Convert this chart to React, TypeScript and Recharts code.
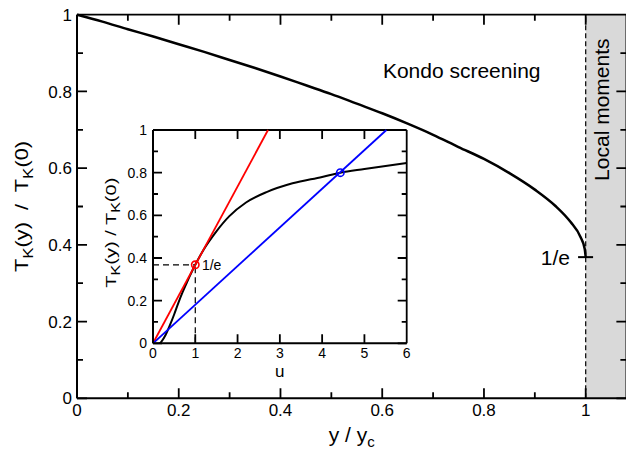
import React from "react";
import { LineChart, Line, XAxis, YAxis, ReferenceArea, ReferenceLine, Label } from "recharts";

const FONT = "'Liberation Sans', Arial, Helvetica, sans-serif";

// main curve
const mainX = [0, 0.05, 0.1, 0.15, 0.2, 0.25, 0.3, 0.35, 0.4, 0.45, 0.5, 0.55, 0.6, 0.65, 0.7, 0.75, 0.8, 0.85, 0.9, 0.94, 0.97, 0.99, 0.998, 1];
const mainT = [1, 0.982, 0.962, 0.943, 0.923, 0.903, 0.882, 0.861, 0.839, 0.816, 0.793, 0.768, 0.743, 0.716, 0.687, 0.655, 0.624, 0.587, 0.544, 0.502, 0.46, 0.42, 0.39, 0.368];
const mainXTicks = [0, 0.1, 0.2, 0.3, 0.4, 0.5, 0.6, 0.7, 0.8, 0.9, 1];
const mainYTicks = [0, 0.1, 0.2, 0.3, 0.4, 0.5, 0.6, 0.7, 0.8, 0.9, 1];
const MAIN_XMAX = 1.08;

// inset curve and the two straight lines
const insetU = [0.16, 0.2, 0.3, 0.4, 0.5, 0.6, 0.7, 0.8, 0.9, 1.0, 1.2, 1.5, 1.8, 2.2, 2.7, 3.3, 4.0, 4.43, 5.0, 6.0];
const insetT = [0, 0.008, 0.04, 0.085, 0.135, 0.19, 0.24, 0.285, 0.328, 0.368, 0.44, 0.525, 0.595, 0.66, 0.71, 0.75, 0.78, 0.8, 0.817, 0.845];
const redU = [0, 2.72];
const redT = [0, 1];
const blueU = [0, 5.52];
const blueT = [0, 1];
const insetXTicks = [0, 1, 2, 3, 4, 5, 6];
const insetYTicks = [0, 0.1, 0.2, 0.3, 0.4, 0.5, 0.6, 0.7, 0.8, 0.9, 1];

const INV_E = 0.368;
const redHit = [{ u: 1, t: INV_E }];
const blueHit = [{ u: 4.43, t: 0.8 }];

const mainData = mainX.map((x, i) => ({ x, t: mainT[i] }));
const insetData = insetU.map((u, i) => ({ u, t: insetT[i] }));
const redData = redU.map((u, i) => ({ u, t: redT[i] }));
const blueData = blueU.map((u, i) => ({ u, t: blueT[i] }));

const isMajor = (v: number, step: number) => Math.abs(v / step - Math.round(v / step)) < 1e-6;

// inward ticks on all four sides plus the top/right frame, as one broken polyline
function frameData(
  key: string,
  xTicks: number[],
  yTicks: number[],
  xMax: number,
  yMax: number,
  xStep: number,
  yStep: number,
  xLen: [number, number],
  yLen: [number, number]
) {
  const pts: any[] = [];
  const seg = (x1: number, t1: number, x2: number, t2: number) => {
    pts.push({ [key]: x1, t: t1 }, { [key]: x2, t: t2 }, { [key]: x2, t: null });
  };
  xTicks.forEach((v) => {
    const len = isMajor(v, xStep) ? xLen[0] : xLen[1];
    seg(v, 0, v, len);
    seg(v, yMax, v, yMax - len);
  });
  yTicks.forEach((v) => {
    const len = isMajor(v, yStep) ? yLen[0] : yLen[1];
    seg(0, v, len, v);
    seg(xMax, v, xMax - len, v);
  });
  seg(0, yMax, xMax, yMax);
  seg(xMax, 0, xMax, yMax);
  return pts;
}

const mainFrame = frameData("x", mainXTicks, mainYTicks, MAIN_XMAX, 1, 0.2, 0.2, [0.026, 0.0156], [0.0197, 0.0118]);
const insetFrame = frameData("u", insetXTicks, insetYTicks, 6, 1, 1, 0.2, [0.042, 0.042], [0.213, 0.118]);

function makeTickLabel(side: string, step: number, fontSize: number, gap: number) {
  return (props: any) => {
    const { x, y, payload } = props;
    const v = payload.value;
    if (!isMajor(v, step)) return <g />;
    if (side === "left")
      return (
        <text x={x - gap} y={y} dy="0.36em" textAnchor="end" fontSize={fontSize} fontFamily={FONT}>
          {String(v)}
        </text>
      );
    return (
      <text x={x} y={y + gap} dy="0.71em" textAnchor="middle" fontSize={fontSize} fontFamily={FONT}>
        {String(v)}
      </text>
    );
  };
}

const MainYTitle = (p: any) => {
  const cx = p.viewBox.x + 22;
  const cy = p.viewBox.y + p.viewBox.height / 2;
  return (
    <text x={cx} y={cy} transform={`rotate(-90, ${cx}, ${cy})`} textAnchor="middle" dy="0.36em" fontSize={18} fontFamily={FONT}
      textLength={131} lengthAdjust="spacingAndGlyphs" style={{ whiteSpace: "pre" }}>
      T<tspan fontSize={14} dy={5}>K</tspan>
      <tspan dy={-5}>(y)  /  T</tspan>
      <tspan fontSize={14} dy={5}>K</tspan>
      <tspan dy={-5}>(0)</tspan>
    </text>
  );
};

const MainXTitle = (p: any) => {
  const cx = p.viewBox.x + p.viewBox.width / 2;
  const y = p.viewBox.y + 43.5;
  return (
    <text x={cx} y={y} textAnchor="middle" fontSize={21} fontFamily={FONT} style={{ whiteSpace: "pre" }}>
      y / y<tspan fontSize={15} dy={5}>c</tspan>
    </text>
  );
};

const InsetYTitle = (p: any) => {
  const cx = p.viewBox.x + 8;
  const cy = p.viewBox.y + p.viewBox.height / 2 - 4;
  return (
    <text x={cx} y={cy} transform={`rotate(-90, ${cx}, ${cy})`} textAnchor="middle" dy="0.36em" fontSize={15} fontFamily={FONT}
      textLength={110} lengthAdjust="spacingAndGlyphs" style={{ whiteSpace: "pre" }}>
      T<tspan fontSize={12} dy={4}>K</tspan>
      <tspan dy={-4}>(y) / T</tspan>
      <tspan fontSize={12} dy={4}>K</tspan>
      <tspan dy={-4}>(0)</tspan>
    </text>
  );
};

const InsetXTitle = (p: any) => (
  <text x={p.viewBox.x + p.viewBox.width / 2} y={p.viewBox.y + 34} textAnchor="middle" fontSize={17} fontFamily={FONT}>
    u
  </text>
);

const LocalMoments = (p: any) => {
  const cx = p.viewBox.x + 16;
  const cy = p.viewBox.y + 95;
  return (
    <text x={cx} y={cy} transform={`rotate(-90, ${cx}, ${cy})`} textAnchor="middle" dy="0.36em" fontSize={21} fontFamily={FONT}>
      Local moments
    </text>
  );
};

const KondoLabel = (p: any) => (
  <text x={p.viewBox.x - 124} y={p.viewBox.y + 56} textAnchor="middle" dy="0.36em" fontSize={21} fontFamily={FONT}>
    Kondo screening
  </text>
);

const InvELabel = (p: any) => (
  <text x={p.x + 6.6} y={p.y} dy="0.36em" fontSize={14} fontFamily={FONT}>
    1/e
  </text>
);

const axisLine = { stroke: "#000", strokeWidth: 2 };

function MainChart() {
  return (
    <LineChart width={640} height={455} margin={{ top: 14.7, right: 13.6, left: 0, bottom: 0 }}>
      <ReferenceArea x1={1} x2={MAIN_XMAX} y1={0} y2={1} fill="#d9d9d9" fillOpacity={1} stroke="none">
        <Label content={LocalMoments} />
      </ReferenceArea>
      <XAxis type="number" dataKey="x" domain={[0, MAIN_XMAX]} ticks={mainXTicks} interval={0} tickSize={0} tickMargin={0}
        tick={makeTickLabel("bottom", 0.2, 17, 6)} height={56.7} axisLine={axisLine}>
        <Label content={MainXTitle} />
      </XAxis>
      <YAxis type="number" domain={[0, 1]} ticks={mainYTicks} interval={0} tickSize={0} tickMargin={0}
        tick={makeTickLabel("left", 0.2, 17, 5)} width={77} axisLine={axisLine}>
        <Label content={MainYTitle} />
      </YAxis>
      <ReferenceLine x={1} stroke="#000" strokeWidth={1.2} strokeDasharray="5 3">
        <Label content={KondoLabel} />
      </ReferenceLine>
      <ReferenceLine
        segment={[
          { x: 0.985, y: INV_E },
          { x: 1.0145, y: INV_E },
        ]}
        stroke="#000"
        strokeWidth={2}
        label={{ value: "1/e", position: "left", offset: 8, fontSize: 21, fill: "#000", fontFamily: FONT }}
      />
      <Line data={mainFrame} dataKey="t" type="linear" stroke="#000" strokeWidth={1.8} dot={false} connectNulls={false} isAnimationActive={false} />
      <Line data={mainData} dataKey="t" type="monotone" stroke="#000" strokeWidth={2.5} dot={false} isAnimationActive={false} />
    </LineChart>
  );
}

function InsetChart() {
  return (
    <LineChart width={310} height={265} margin={{ top: 10, right: 6.3, left: 0, bottom: 0 }}>
      <XAxis type="number" dataKey="u" domain={[0, 6]} ticks={insetXTicks} interval={0} tickSize={0} tickMargin={0}
        tick={makeTickLabel("bottom", 1, 14, 5)} height={41.7} axisLine={axisLine}>
        <Label content={InsetXTitle} />
      </XAxis>
      <YAxis type="number" domain={[0, 1]} ticks={insetYTicks} interval={0} tickSize={0} tickMargin={0}
        tick={makeTickLabel("left", 0.2, 14, 6)} width={50} axisLine={axisLine}>
        <Label content={InsetYTitle} />
      </YAxis>
      <ReferenceLine
        segment={[
          { x: 0, y: INV_E },
          { x: 1, y: INV_E },
        ]}
        stroke="#000"
        strokeWidth={1.2}
        strokeDasharray="6 4"
      />
      <ReferenceLine
        segment={[
          { x: 1, y: 0 },
          { x: 1, y: INV_E },
        ]}
        stroke="#000"
        strokeWidth={1.2}
        strokeDasharray="6 4"
      />
      <Line data={insetFrame} dataKey="t" type="linear" stroke="#000" strokeWidth={1.8} dot={false} connectNulls={false} isAnimationActive={false} />
      <Line data={insetData} dataKey="t" type="monotone" stroke="#000" strokeWidth={2} dot={false} isAnimationActive={false} />
      <Line data={redData} dataKey="t" type="linear" stroke="#ff0000" strokeWidth={1.8} dot={false} isAnimationActive={false} />
      <Line data={blueData} dataKey="t" type="linear" stroke="#0000ff" strokeWidth={1.8} dot={false} isAnimationActive={false} />
      <Line data={redHit} dataKey="t" stroke="none" dot={{ r: 3.7, stroke: "#ff0000", strokeWidth: 1.6, fill: "none" }}
        label={InvELabel} isAnimationActive={false} />
      <Line data={blueHit} dataKey="t" stroke="none" dot={{ r: 3.7, stroke: "#0000ff", strokeWidth: 1.6, fill: "none" }}
        isAnimationActive={false} />
    </LineChart>
  );
}

export default function App() {
  return (
    <div style={{ position: "relative", width: 626, height: 455, overflow: "hidden", background: "#fff" }}>
      <style>{"body{margin:0}"}</style>
      <div style={{ position: "absolute", left: 0, top: 0 }}>
        <MainChart />
      </div>
      <div style={{ position: "absolute", left: 103.3, top: 120 }}>
        <InsetChart />
      </div>
    </div>
  );
}
